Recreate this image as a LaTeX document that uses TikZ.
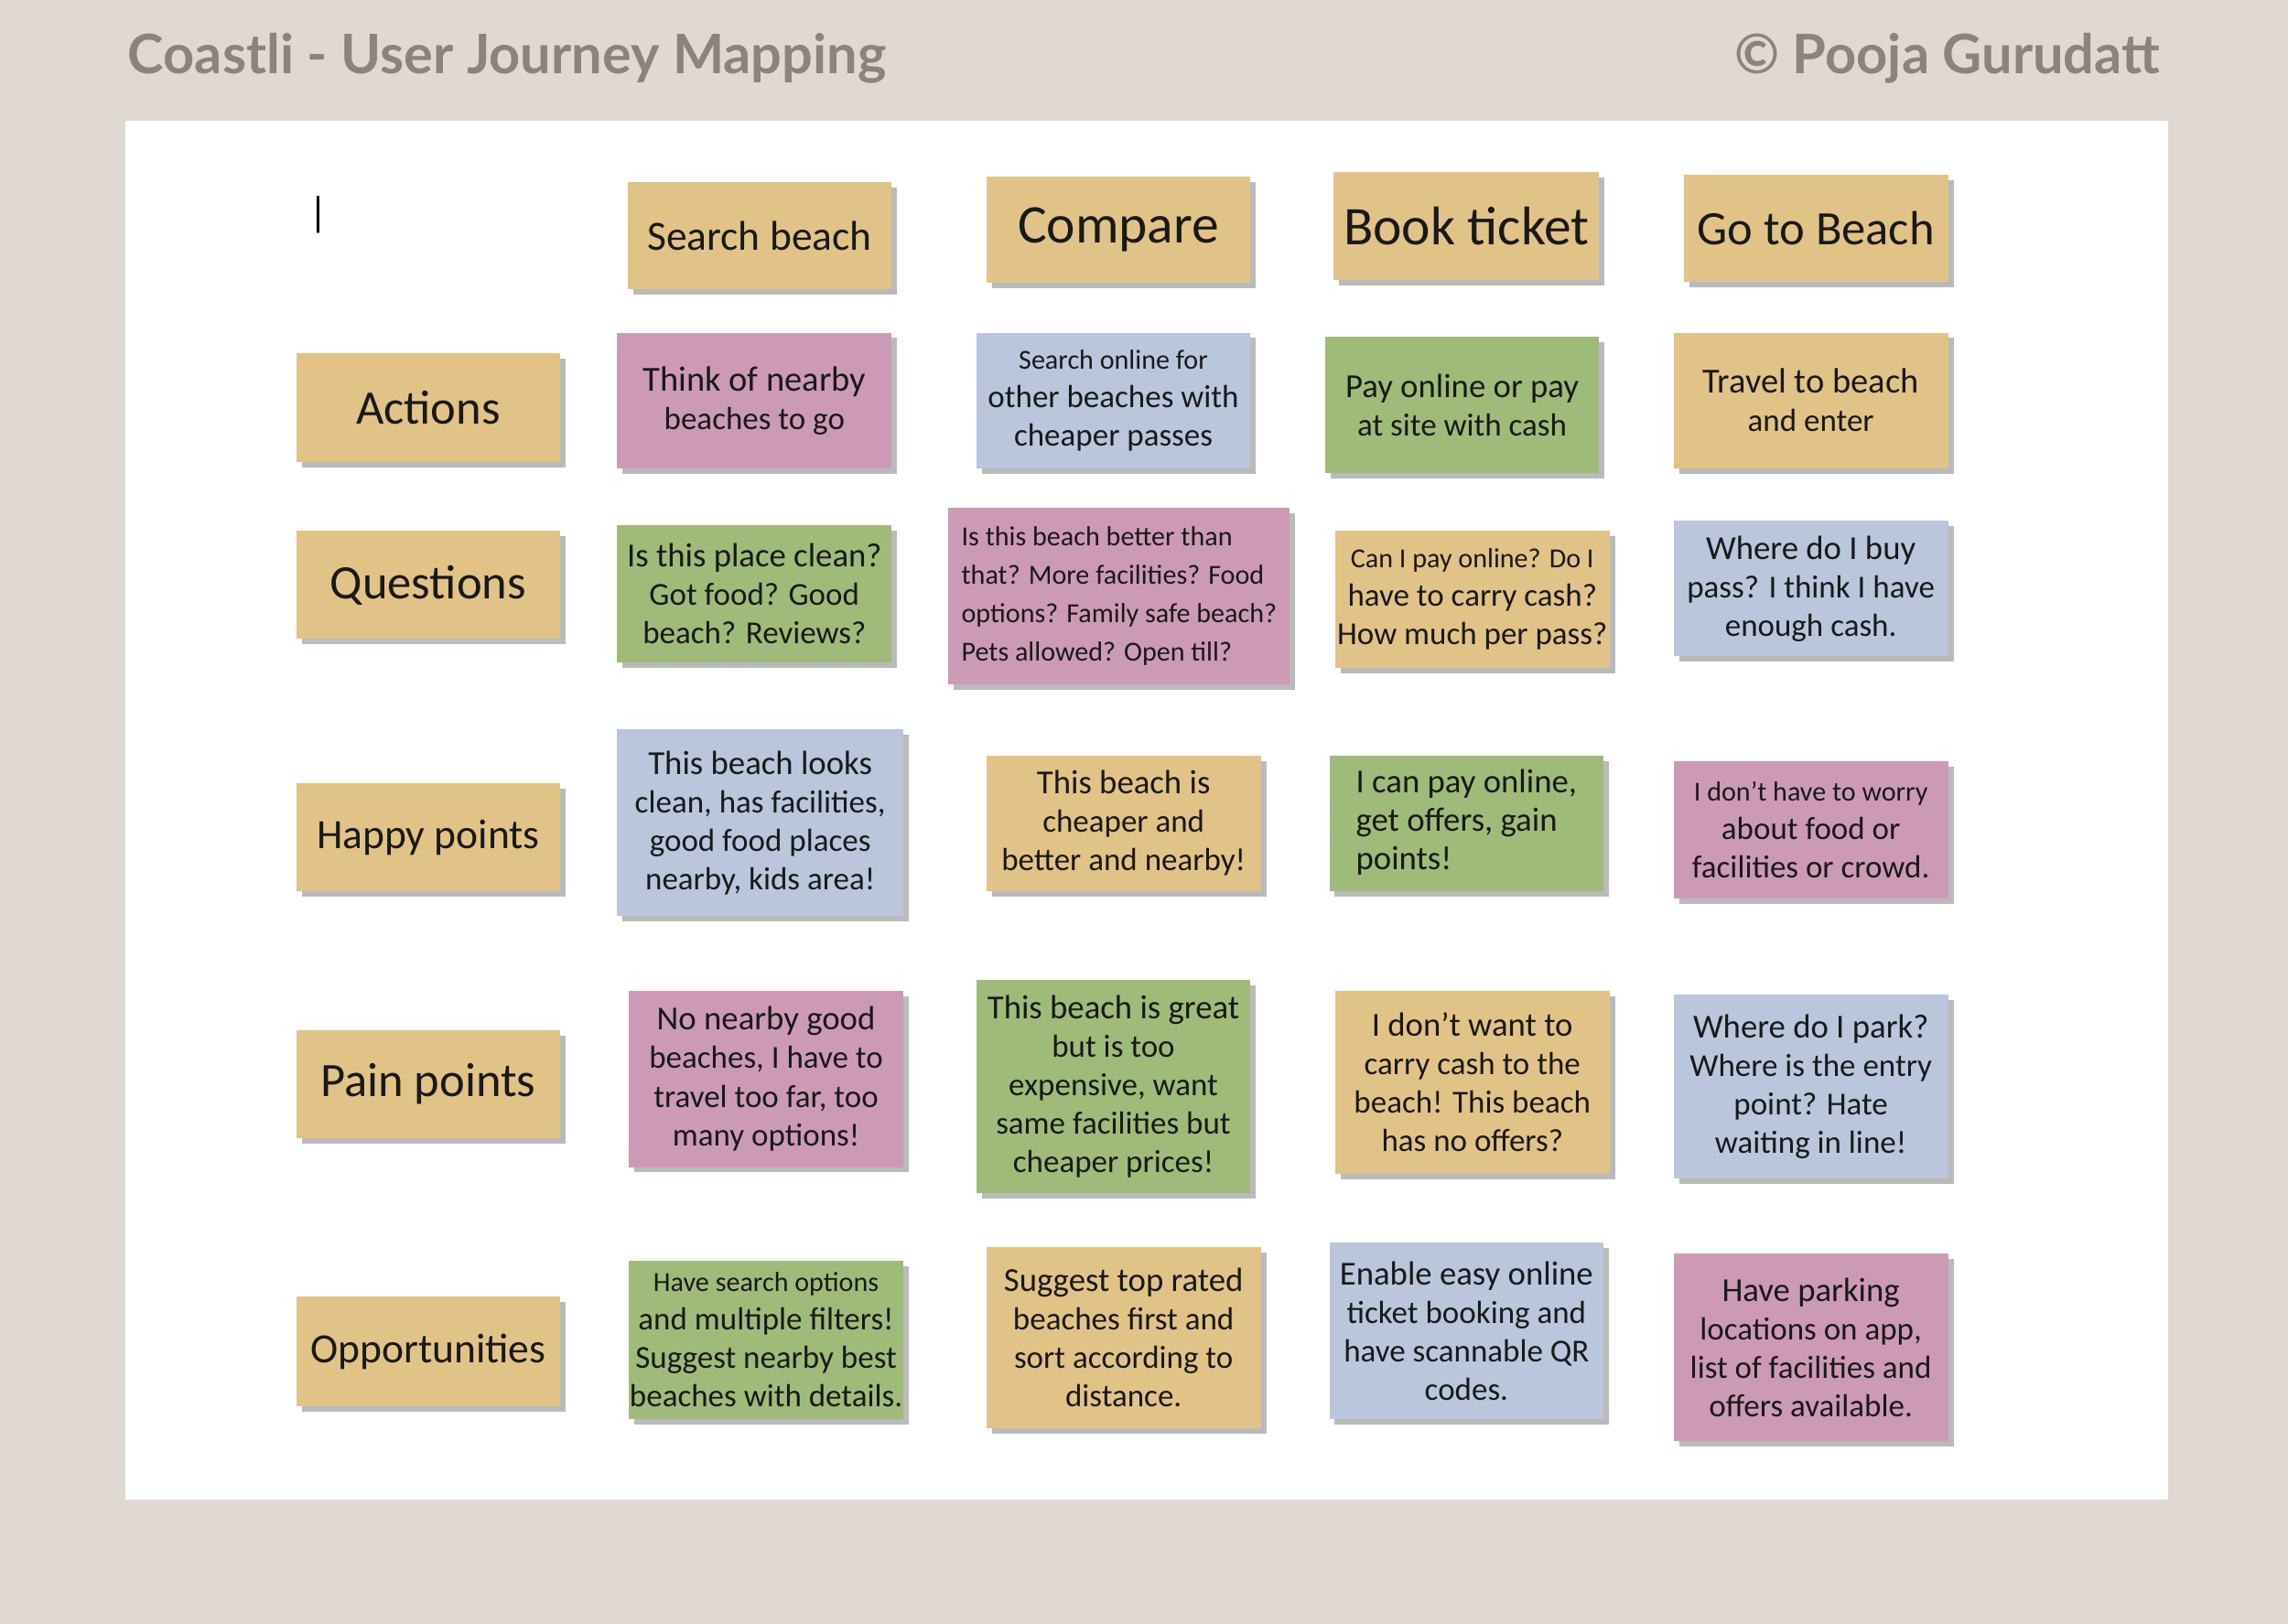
\documentclass[tikz,border=0pt]{standalone}
\usepackage{fontspec}
\setmainfont{Carlito}
\newfontfamily\titlefont{Lato}
\usetikzlibrary{shadows}
\definecolor{bgc}{HTML}{E0D8D2}
\definecolor{goldc}{HTML}{E2C387}
\definecolor{pinkc}{HTML}{CD9AB6}
\definecolor{bluec}{HTML}{B9C6DC}
\definecolor{greenc}{HTML}{9FBB79}
\definecolor{titlec}{HTML}{8B837E}
\newcommand\fH{\fontsize{17}{20}\selectfont}
\newcommand\fL{\fontsize{15}{18}\selectfont}
\newcommand\fM{\fontsize{13}{16}\selectfont}
\newcommand\fS{\fontsize{11}{14.5}\selectfont}
\newcommand\fR{\fontsize{10.5}{12.8}\selectfont}
\newcommand\fT{\fontsize{8.6}{11}\selectfont}
\tikzset{card/.style={drop shadow={shadow xshift=0.6mm,shadow yshift=-0.6mm,opacity=0.45,fill=black!60}},
 cardtext/.style={align=center,inner sep=0pt,text=black!90}}
\newcommand\bx[7]{\fill[#6,card] (#2,#3) rectangle (#4,#5);
 \node[cardtext] (#1) at ({(#2+#4)/2},{(#3+#5)/2}) {#7};}
\begin{document}
\begin{tikzpicture}[x=0.016cm,y=-0.016cm]
\fill[bgc] (0,0) rectangle (1568,1113);
\useasboundingbox (0,0) rectangle (1568,1113);
\fill[white] (86,83) rectangle (1486,1028);
\node[anchor=west,text=titlec,font=\titlefont\bfseries\fontsize{17}{20}\selectfont] (title) at (80,40) {Coastli - User Journey Mapping};
\node[anchor=east,text=titlec,font=\titlefont\bfseries\fontsize{17}{20}\selectfont] (author) at (1488,40) {© Pooja Gurudatt};
\node[font=\fM] (cursor) at (218,147) {|};
% headers
\bx{h1}{430}{125}{611}{198}{goldc}{\fM Search beach}
\bx{h2}{676}{121}{857}{194}{goldc}{\fH Compare}
\bx{h3}{914}{118}{1096}{192}{goldc}{\fH Book ticket}
\bx{h4}{1154}{120}{1335}{193}{goldc}{\fL Go to Beach}
% row labels
\bx{r1}{203}{242}{384}{317}{goldc}{\fL Actions}
\bx{r2}{203}{364}{384}{438}{goldc}{\fL Questions}
\bx{r3}{203}{537}{384}{611}{goldc}{\fM Happy points}
\bx{r4}{203}{706}{384}{780}{goldc}{\fL Pain points}
\bx{r5}{203}{889}{384}{964}{goldc}{\fM Opportunities}
% actions
\bx{a1}{423}{228}{611}{321}{pinkc}{\fS Think of nearby\\beaches to go}
\bx{a2}{669}{228}{857}{321}{bluec}{\fT Search online for\\other beaches with\\cheaper passes}
\bx{a3}{908}{231}{1096}{324}{greenc}{\fR Pay online or pay\\at site with cash}
\bx{a4}{1147}{228}{1335}{321}{goldc}{\fS Travel to beach\\and enter}
% questions
\bx{q1}{423}{360}{611}{454}{greenc}{\fR Is this place clean?\\Got food? Good\\beach? Reviews?}
\bx{q2}{650}{348}{884}{469}{pinkc}{\begin{tabular}{@{}l@{}}\fT Is this beach better than\\\fT that? More facilities? Food\\\fT options? Family safe beach?\\\fT Pets allowed? Open till?\end{tabular}}
\bx{q3}{915}{364}{1103}{458}{goldc}{\fT Can I pay online? Do I\\have to carry cash?\\How much per pass?}
\bx{q4}{1147}{357}{1335}{450}{bluec}{\fR Where do I buy\\pass? I think I have\\enough cash.}
% happy
\bx{p1}{423}{500}{619}{628}{bluec}{\fR This beach looks\\clean, has facilities,\\good food places\\nearby, kids area!}
\bx{p2}{676}{518}{864}{611}{goldc}{\fR This beach is\\cheaper and\\better and nearby!}
\bx{p3}{911}{518}{1099}{611}{greenc}{\begin{tabular}{@{}l@{}}\fR I can pay online,\\\fR get offers, gain\\\fR points!\end{tabular}}
\bx{p4}{1147}{522}{1335}{616}{pinkc}{\fT I don’t have to worry\\about food or\\facilities or crowd.}
% pain
\bx{n1}{431}{679}{619}{800}{pinkc}{\fR No nearby good\\beaches, I have to\\travel too far, too\\many options!}
\bx{n2}{669}{672}{857}{818}{greenc}{\fR This beach is great\\but is too\\expensive, want\\same facilities but\\cheaper prices!}
\bx{n3}{915}{679}{1103}{805}{goldc}{\fR I don’t want to\\carry cash to the\\beach! This beach\\has no offers?}
\bx{n4}{1147}{682}{1335}{808}{bluec}{\fR Where do I park?\\Where is the entry\\point? Hate\\waiting in line!}
% opportunities
\bx{o1}{431}{864}{619}{973}{greenc}{\fT Have search options\\and multiple filters!\\Suggest nearby best\\beaches with details.}
\bx{o2}{676}{855}{864}{979}{goldc}{\fR Suggest top rated\\beaches first and\\sort according to\\distance.}
\bx{o3}{911}{852}{1099}{973}{bluec}{\fR Enable easy online\\ticket booking and\\have scannable QR\\codes.}
\bx{o4}{1147}{859}{1335}{988}{pinkc}{\fR Have parking\\locations on app,\\list of facilities and\\offers available.}
\end{tikzpicture}
\end{document}
